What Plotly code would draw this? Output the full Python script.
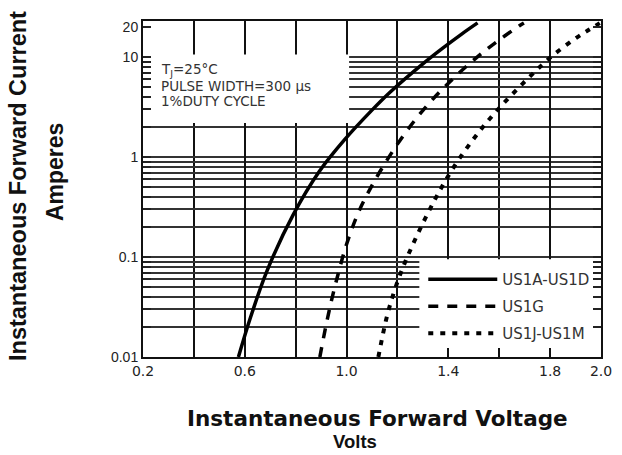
import plotly.graph_objects as go

# ---- data (Volts, Amperes) ----
v_a_d = [0.575, 0.623, 0.687, 0.790, 0.892, 0.994, 1.097, 1.174, 1.301, 1.378, 1.455, 1.515]
i_a_d = [0.010, 0.0251, 0.0724, 0.264, 0.714, 1.51, 2.90, 4.53, 8.61, 12.3, 17.2, 22.0]

v_g = [0.895, 0.918, 0.943, 0.969, 0.994, 1.020, 1.052, 1.097, 1.141, 1.193, 1.244,
       1.301, 1.365, 1.436, 1.512, 1.589, 1.678, 1.697]
i_g = [0.010, 0.01995, 0.0389, 0.0708, 0.120, 0.188, 0.300, 0.504, 0.787, 1.27, 1.94,
       2.95, 4.46, 6.71, 9.95, 14.2, 20.5, 22.0]

v_j_m = [1.125, 1.160, 1.193, 1.225, 1.256, 1.301, 1.346, 1.385, 1.436, 1.493, 1.551,
         1.608, 1.679, 1.749, 1.813, 1.890, 1.941, 1.995]
i_j_m = [0.010, 0.0263, 0.0501, 0.0828, 0.126, 0.221, 0.371, 0.560, 0.906, 1.45, 2.23,
         3.26, 5.02, 7.52, 10.5, 14.8, 18.0, 21.9]

series_names = ["US1A-US1D", "US1G", "US1J-US1M"]

x_tick_vals = [0.2, 0.6, 1.0, 1.4, 1.8, 2.0]
x_tick_text = ["0.2", "0.6", "1.0", "1.4", "1.8", "2.0"]
x_minor_vals = [0.4, 0.8, 1.2, 1.6]

y_tick_vals = [0.01, 0.1, 1, 10, 20]
y_tick_text = ["0.01", "0.1", "1", "10", "20"]
y_minor_vals = [0.02, 0.03, 0.04, 0.05, 0.06, 0.07, 0.08, 0.09, 0.1,
                0.2, 0.3, 0.4, 0.5, 0.6, 0.7, 0.8, 0.9, 1,
                2, 3, 4, 5, 6, 7, 8, 9, 10]

fig = go.Figure()
fig.add_trace(go.Scatter(x=v_a_d, y=i_a_d, mode="lines", name=series_names[0],
                         legendgroup="a",
                         line=dict(color="#000000", width=3.5, shape="spline", smoothing=1.0)))
fig.add_trace(go.Scatter(x=v_g, y=i_g, mode="lines", name=series_names[1],
                         legendgroup="g",
                         line=dict(color="#000000", width=3.5, dash="10px,9px",
                                   shape="spline", smoothing=1.0)))
fig.add_trace(go.Scatter(x=v_j_m, y=i_j_m, mode="lines", name=series_names[2],
                         legendgroup="j",
                         line=dict(color="#000000", width=4, dash="5px,7px",
                                   shape="spline", smoothing=1.0)))

# white boxes (annotation area and legend area) that hide the grid
fig.add_shape(type="rect", xref="x", yref="y", x0=0.2, x1=1.01, y0=2.2, y1=10.6,
              fillcolor="white", line=dict(width=0), layer="between")
fig.add_shape(type="rect", xref="x", yref="y", x0=1.286, x1=2.0, y0=0.01, y1=0.095,
              fillcolor="white", line=dict(width=0), layer="between")

note_font = dict(family="DejaVu Sans", size=13.5, color="#333333")
for txt, yp in [("T<sub>J</sub>=25°C", 70), ("PULSE WIDTH=300 µs", 86), ("1%DUTY CYCLE", 101)]:
    fig.add_annotation(text=txt, xref="paper", yref="paper", x=(160 - 143) / 469,
                       y=(357 - yp) / 336, xanchor="left", yanchor="middle",
                       showarrow=False, borderpad=0, font=note_font)

# axis titles
fig.add_annotation(text="<b>Instantaneous Forward Current</b>", xref="paper", yref="paper",
                   x=(15 - 143) / 469, y=(357 - 186) / 336, textangle=-90, showarrow=False,
                   xanchor="center", yanchor="middle",
                   font=dict(family="Liberation Sans", size=23.5, color="#111111"))
fig.add_annotation(text="<b>Amperes</b>", xref="paper", yref="paper",
                   x=(53 - 143) / 469, y=(357 - 172) / 336, textangle=-90, showarrow=False,
                   xanchor="center", yanchor="middle",
                   font=dict(family="Liberation Sans", size=23, color="#111111"))
fig.add_annotation(text="<b>Instantaneous Forward Voltage</b>", xref="paper", yref="paper",
                   x=(383 - 143) / 469, y=(357 - 418) / 336, showarrow=False,
                   xanchor="center", yanchor="middle",
                   font=dict(family="DejaVu Sans", size=21.5, color="#111111"))
fig.add_annotation(text="<b>Volts</b>", xref="paper", yref="paper",
                   x=(360 - 143) / 469, y=(357 - 441) / 336, showarrow=False,
                   xanchor="center", yanchor="middle",
                   font=dict(family="Liberation Sans", size=18.5, color="#111111"))

fig.update_xaxes(range=[0.2, 2.0], tickmode="array", tickvals=x_tick_vals, ticktext=x_tick_text,
                 ticks="inside", ticklen=9, tickwidth=2, tickcolor="#111111",
                 showgrid=True, gridcolor="#111111", gridwidth=2,
                 minor=dict(tickmode="array", tickvals=x_minor_vals, ticks="inside", ticklen=9,
                            tickwidth=2, tickcolor="#111111", showgrid=True,
                            gridcolor="#111111", gridwidth=2),
                 showline=True, linecolor="#111111", linewidth=2, mirror="allticks",
                 zeroline=False,
                 tickfont=dict(family="DejaVu Sans", size=14, color="#222222"))
fig.update_yaxes(type="log", range=[-2, 1.3617], tickmode="array", tickvals=y_tick_vals,
                 ticktext=y_tick_text, ticks="inside", ticklen=8, tickwidth=1.5,
                 tickcolor="#222222", showgrid=False,
                 minor=dict(tickmode="array", tickvals=y_minor_vals, ticks="inside", ticklen=8,
                            tickwidth=1.5, tickcolor="#222222", showgrid=True,
                            gridcolor="#333333", gridwidth=1.5),
                 showline=True, linecolor="#111111", linewidth=2, mirror="allticks",
                 zeroline=False,
                 tickfont=dict(family="Liberation Sans", size=14, color="#222222"))

fig.update_layout(
    width=622, height=455,
    margin=dict(l=143, r=10, t=21, b=98),
    paper_bgcolor="white", plot_bgcolor="white",
    showlegend=True,
    legend=dict(x=(430 - 143) / 469, y=(357 - 263) / 336, xanchor="left", yanchor="top",
                bgcolor="rgba(0,0,0,0)", tracegroupgap=4.5, itemwidth=69,
                font=dict(family="DejaVu Sans", size=15, color="#333333")),
)

fig.write_html("out.html")
